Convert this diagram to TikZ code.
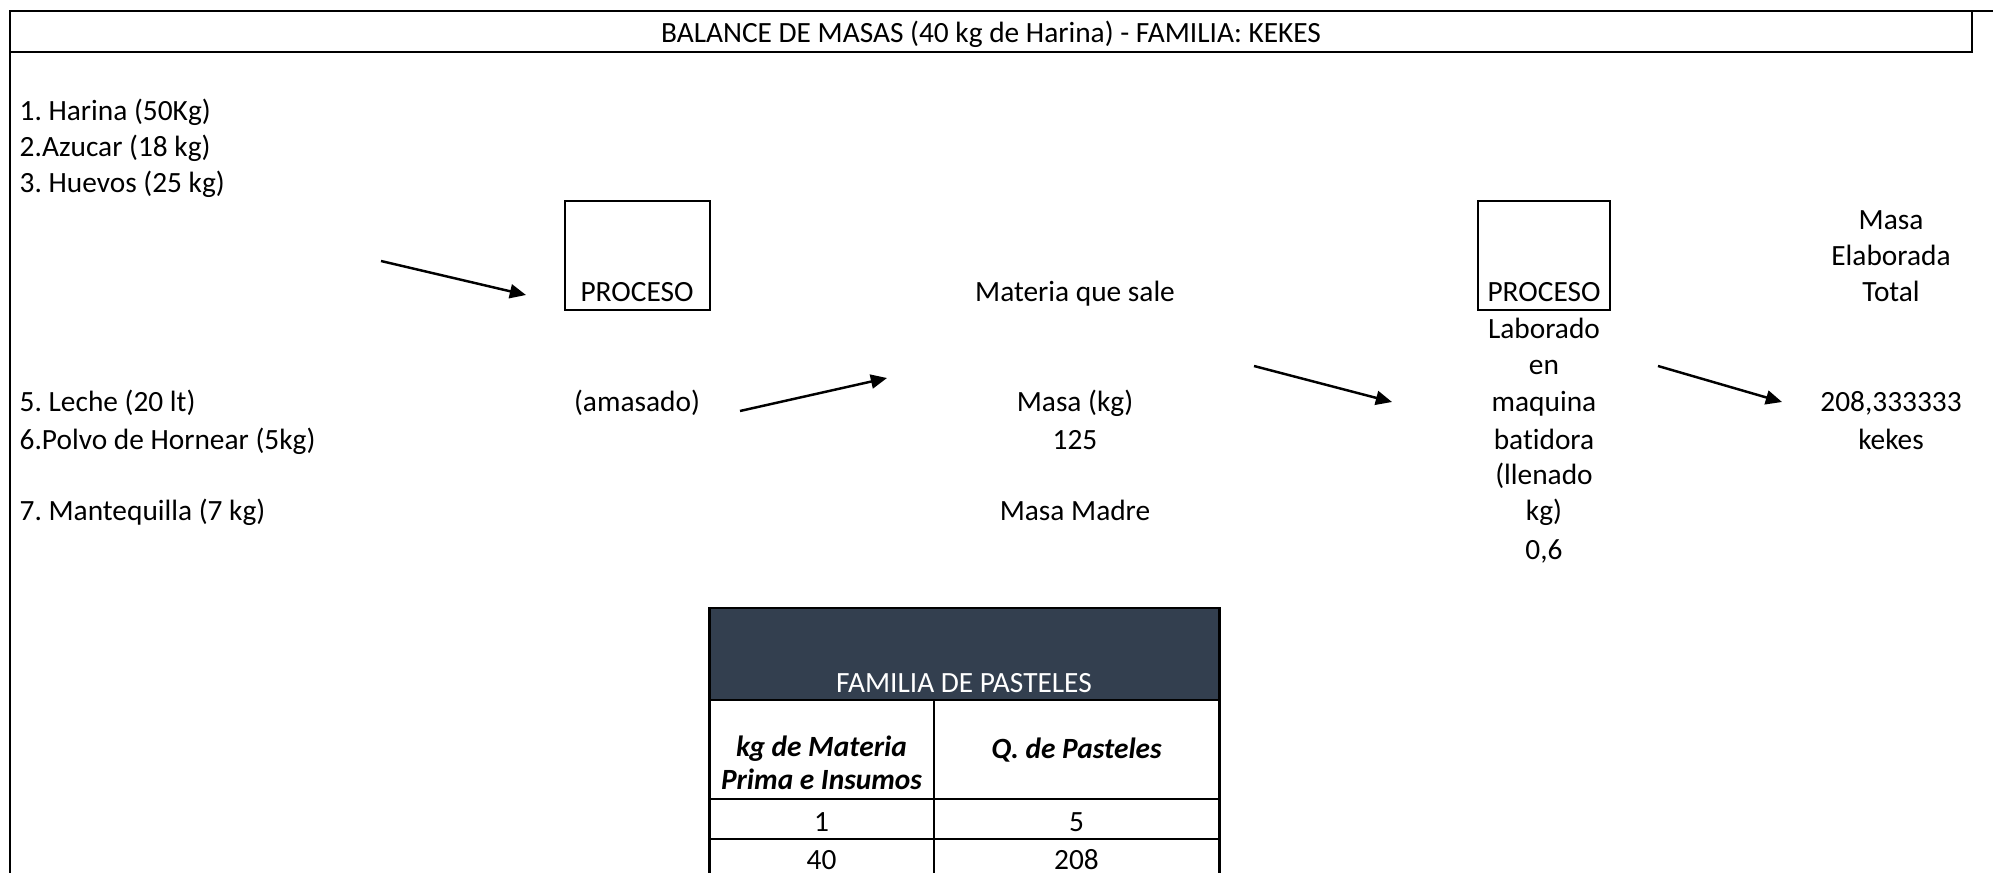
\documentclass[tikz,border=0pt]{standalone}
\usepackage{fontspec}
\setmainfont{Carlito}[Ligatures=NoCommon]
\frenchspacing
\usetikzlibrary{arrows.meta}
\definecolor{Ink}{HTML}{000000}
\definecolor{HeadFill}{HTML}{333F4F}

\begin{document}
\begin{tikzpicture}[x=0.01cm,y=-0.01cm,
  txt/.style={anchor=base,inner sep=0pt,font=\fontsize{8.35}{10}\selectfont,text=Ink},
  lft/.style={txt,anchor=base west},
  head/.style={txt,font=\fontsize{8.35}{10}\selectfont\bfseries\itshape},
  flow/.style={-{Triangle[length=4.6pt,width=4pt]},line width=0.7pt,Ink},
  procbox/.style={draw=Ink,line width=0.55pt,minimum height=1.09cm,inner sep=0pt}]
\useasboundingbox (0,0) rectangle (1993,873);
% marco y titulo
\draw[Ink,line width=0.85pt] (10,873) -- (10,11) -- (1993,11);
\draw[Ink,line width=0.6pt] (10,52) -- (1972,52) -- (1972,11);
\node[txt] (titulo) at (991,43) {BALANCE DE MASAS (40 kg de Harina) - FAMILIA: KEKES};
% insumos
\node[lft] (harina) at (19,121) {1. Harina (50Kg)};
\node[lft] (azucar) at (19,157) {2.Azucar (18 kg)};
\node[lft] (huevos) at (19,193) {3. Huevos (25 kg)};
\node[lft] (leche) at (19,411) {5. Leche (20 lt)};
\node[lft] (polvo) at (19,449) {6.Polvo de Hornear (5kg)};
\node[lft] (mantequilla) at (19,520) {7. Mantequilla (7 kg)};
% primer proceso
\node[procbox,minimum width=1.45cm] (proc1) at (637.5,255.5) {};
\node[txt] (proc1txt) at (637,302) {PROCESO};
\node[txt] (amasado) at (637,411) {(amasado)};
% materia que sale
\node[txt] (sale) at (1075,302) {Materia que sale};
\node[txt] (masakg) at (1075,411) {Masa (kg)};
\node[txt] (masaval) at (1075,449) {125};
\node[txt] (madre) at (1075,520) {Masa Madre};
% segundo proceso
\node[procbox,minimum width=1.32cm] (proc2) at (1544,255.5) {};
\node[txt] (proc2txt) at (1544,302) {PROCESO};
\node[txt] (lab1) at (1544,338) {Laborado};
\node[txt] (lab2) at (1544,374) {en};
\node[txt] (lab3) at (1544,411) {maquina};
\node[txt] (lab4) at (1544,449) {batidora};
\node[txt] (lab5) at (1544,485) {(llenado};
\node[txt] (lab6) at (1544,520) {kg)};
\node[txt] (lab7) at (1544,559) {0,6};
% masa elaborada
\node[txt] (tot1) at (1891,230) {Masa};
\node[txt] (tot2) at (1891,266) {Elaborada};
\node[txt] (tot3) at (1891,302) {Total};
\node[txt] (totval) at (1891,411) {208,333333};
\node[txt] (kekes) at (1891,449) {kekes};
% flechas
\coordinate (f1a) at (381,261);
\coordinate (f1b) at (526,295);
\coordinate (f2a) at (740,411);
\coordinate (f2b) at (887,378);
\coordinate (f3a) at (1254,366);
\coordinate (f3b) at (1392,402);
\coordinate (f4a) at (1658,366);
\coordinate (f4b) at (1782,402);
\draw[flow] (f1a) -- (f1b);
\draw[flow] (f2a) -- (f2b);
\draw[flow] (f3a) -- (f3b);
\draw[flow] (f4a) -- (f4b);
% tabla familia de pasteles
\fill[HeadFill] (709,608) rectangle (1219,700);
\draw[Ink,line width=0.85pt] (709,873) -- (709,608) -- (1219,608) -- (1219,873);
\draw[Ink,line width=0.85pt] (709,700) -- (1219,700);
\draw[Ink,line width=0.85pt] (709,799) -- (1219,799);
\draw[Ink,line width=0.6pt] (709,839) -- (1219,839);
\draw[Ink,line width=0.6pt] (934,700) -- (934,873);
\node[txt,text=white] (familia) at (964,692) {FAMILIA DE PASTELES};
\node[head] (kgmat) at (821.5,756) {kg de Materia};
\node[head] (prima) at (821.5,789) {Prima e Insumos};
\node[head] (qpast) at (1076.5,758) {Q. de Pasteles};
\node[txt] (uno) at (821.5,831) {1};
\node[txt] (cinco) at (1076.5,831) {5};
\node[txt] (cuarenta) at (821.5,869) {40};
\node[txt] (doscientos) at (1076.5,869) {208};
\end{tikzpicture}
\end{document}
